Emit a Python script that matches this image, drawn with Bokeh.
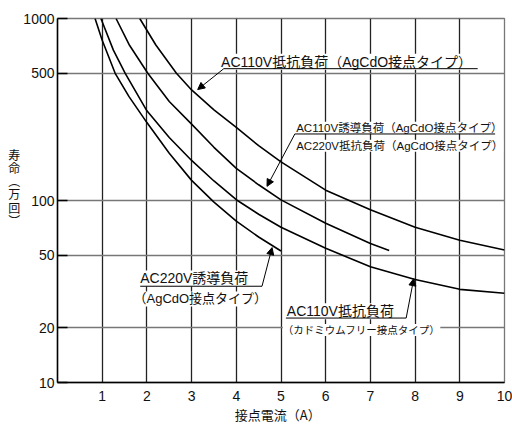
from bokeh.plotting import figure
from bokeh.models import FixedTicker, Label, Arrow, NormalHead, PrintfTickFormatter
from bokeh.embed import file_html
from bokeh.resources import INLINE

# ---- data ----
x_ticks = [1, 2, 3, 4, 5, 6, 7, 8, 9, 10]
y_ticks = [10, 20, 50, 100, 500, 1000]

# AC220V誘導負荷 (AgCdO接点タイプ)
ac220_ind_x = [0.84, 1.0, 1.29, 1.6, 2.0, 2.5, 3.0, 3.5, 4.0, 4.5, 5.0]
ac220_ind_y = [1000, 760, 500, 372, 268, 182, 129, 98, 77, 63, 52.8]

# AC110V抵抗負荷 (カドミウムフリー接点タイプ)
cdfree_x = [0.97, 1.0, 1.25, 1.515, 2.0, 2.5, 3.0, 3.5, 4.0, 4.5, 5.0, 6.0, 7.0, 8.0, 9.0, 10.0]
cdfree_y = [1000, 960, 670, 500, 311, 222, 166, 128, 101, 84, 71.3, 54.6, 43.3, 36.8, 32.5, 30.9]

# AC110V誘導負荷 / AC220V抵抗負荷 (AgCdO接点タイプ)
ac110_ind_x = [1.31, 1.6, 2.02, 2.5, 3.0, 3.5, 4.0, 4.5, 5.0, 6.0, 7.0, 7.42]
ac110_ind_y = [1000, 720, 500, 350, 263, 196, 150, 122, 100.8, 75, 58, 53.2]

# AC110V抵抗負荷 (AgCdO接点タイプ)
ac110_res_x = [1.84, 2.2, 2.66, 3.0, 3.5, 4.0, 4.5, 5.0, 6.0, 7.0, 8.0, 9.0, 10.0]
ac110_res_y = [1000, 715, 500, 405, 315, 252, 200, 163, 114, 89, 71.3, 60.5, 53.5]

series = [
    (ac220_ind_x, ac220_ind_y),
    (cdfree_x, cdfree_y),
    (ac110_ind_x, ac110_ind_y),
    (ac110_res_x, ac110_res_y),
]

# callout texts: (text, x, y, font size)
callout_texts = [
    ("AC110V抵抗負荷（AgCdO接点タイプ）", 3.66, 578, "14px"),
    ("AC110V誘導負荷（AgCdO接点タイプ）", 5.34, 251, "11.5px"),
    ("AC220V抵抗負荷（AgCdO接点タイプ）", 5.34, 200, "11.5px"),
    ("AC220V誘導負荷", 1.85, 37.3, "14px"),
    ("（AgCdO接点タイプ）", 1.70, 28.8, "13px"),
    ("AC110V抵抗負荷", 5.13, 24.6, "14px"),
    ("（カドミウムフリー接点タイプ）", 5.04, 19.4, "10.5px"),
]
# underlines: (x0, x1, y)
underlines = [
    (3.72, 9.40, 530),
    (5.31, 9.79, 232),
    (1.85, 4.575, 33.8),
    (5.11, 7.80, 22.6),
]
# leaders with arrow heads: (x0, y0, x1, y1)
leaders = [
    (3.72, 530, 3.136, 407),
    (5.31, 232, 4.687, 119.6),
    (4.575, 33.8, 4.80, 55.1),
    (7.80, 22.6, 7.97, 37.2),
]

TXT = "#111111"
LAT = "Liberation Sans, Noto Sans CJK JP"
CJK = "Noto Sans CJK JP"

p = figure(width=512, height=426, x_range=(0, 10), y_range=(10, 1000),
           y_axis_type="log", output_backend="svg", toolbar_location=None,
           min_border_left=57, min_border_right=8, min_border_top=18,
           min_border_bottom=40)
p.background_fill_color = "white"
p.border_fill_color = "white"
p.outline_line_color = "#777777"
p.outline_line_width = 1.3

p.xaxis.ticker = FixedTicker(ticks=x_ticks)
p.yaxis.ticker = FixedTicker(ticks=y_ticks)
p.yaxis.formatter = PrintfTickFormatter(format="%d")
p.xgrid.ticker = FixedTicker(ticks=x_ticks[:-1])
p.ygrid.ticker = FixedTicker(ticks=y_ticks)
p.xgrid.grid_line_color = "#222222"
p.xgrid.grid_line_width = 1.3
p.ygrid.grid_line_color = "#777777"
p.ygrid.grid_line_width = 1.3

for ax in (p.xaxis, p.yaxis):
    ax.axis_line_color = "black"
    ax.axis_line_width = 1.5
    ax.minor_tick_line_color = None
    ax.major_label_text_font = "Liberation Sans"
    ax.major_label_text_font_size = "14px"
    ax.major_label_text_color = TXT
    ax.axis_label_text_font = CJK
    ax.axis_label_text_font_style = "normal"
    ax.axis_label_text_color = TXT
p.xaxis.major_tick_line_color = None
p.xaxis.major_label_standoff = 2
p.yaxis.major_tick_in = 10
p.yaxis.major_tick_out = 0
p.yaxis.major_tick_line_color = "black"
p.yaxis.major_tick_line_width = 1.5
p.yaxis.major_label_standoff = 3

# axis titles
p.xaxis.axis_label = "接点電流（A）\u3000"
p.xaxis.axis_label_text_font_size = "13px"
p.xaxis.axis_label_standoff = 1
p.yaxis.axis_label = "寿\n命\n︵\n万\n回\n︶\n\n"
p.yaxis.axis_label_orientation = "horizontal"
p.yaxis.axis_label_text_font_size = "12px"
p.yaxis.axis_label_text_line_height = 0.77
p.yaxis.axis_label_standoff = 0

for xs, ys in series:
    p.line(xs, ys, line_color="black", line_width=1.6, line_join="round")

for text, x, y, size in callout_texts:
    p.add_layout(Label(x=x, y=y, text=text, text_font=LAT, text_font_size=size,
                       text_color=TXT, text_baseline="alphabetic",
                       background_fill_color="white", background_fill_alpha=1.0))

for x0, x1, y in underlines:
    p.add_layout(Arrow(end=None, x_start=x0, y_start=y, x_end=x1, y_end=y,
                       line_color="black", line_width=1.0))
for x0, y0, x1, y1 in leaders:
    p.add_layout(Arrow(end=NormalHead(size=7, fill_color="black", line_color="black", line_width=1),
                       x_start=x0, y_start=y0, x_end=x1, y_end=y1,
                       line_color="black", line_width=1.0))

open("out.html", "w").write(file_html(p, INLINE))
